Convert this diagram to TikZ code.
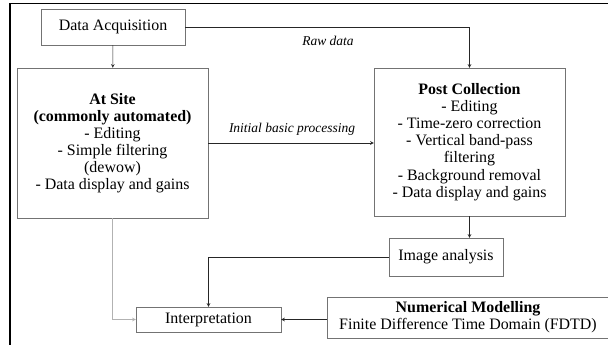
\documentclass[tikz,border=0pt]{standalone}
\usepackage{fontspec}
\setmainfont{Liberation Serif}
\tikzset{>=stealth}
\tikzset{
  blk/.style={draw=black!55, thin, align=center, inner sep=0pt,
    font=\fontsize{13.6}{14.6}\selectfont},
  conn/.style={->, thin, black!85},
  lbl/.style={font=\fontsize{11.5}{13}\selectfont\itshape}
}

\begin{document}
\begin{tikzpicture}[x=0.03cm, y=-0.03cm]
\useasboundingbox (0,0) rectangle (608,345);
% outer frame (only top and left show)
\draw[line width=1.5pt] (10,345) -- (10,3.5) -- (608,3.5);

% boxes
\node[blk, minimum width=144*0.03cm, minimum height=36*0.03cm] (acq) at (113,27) {Data Acquisition};
\node[blk, minimum width=191*0.03cm, minimum height=150*0.03cm] (site) at (112.5,143)
  {\textbf{At Site}\\ \textbf{(commonly automated)}\\ - Editing\\ - Simple filtering\\ (dewow)\\ - Data display and gains};
\node[blk, minimum width=191*0.03cm, minimum height=148*0.03cm] (post) at (469.5,142)
  {\textbf{Post Collection}\\ - Editing\\ - Time-zero correction\\ - Vertical band-pass\\ filtering\\ - Background removal\\ - Data display and gains};
\node[blk, minimum width=114*0.03cm, minimum height=38*0.03cm] (img) at (446,257) {Image analysis};
\node[blk, minimum width=145*0.03cm, minimum height=25*0.03cm] (interp) at (208.5,319.5) {Interpretation};
\node[blk, minimum width=282*0.03cm, minimum height=41*0.03cm] (num) at (468,317.5)
  {\textbf{Numerical Modelling}\\ Finite Difference Time Domain (FDTD)};

% connectors
\draw[conn] (acq) -- (site);
\draw[conn] (acq.east) -| (post.north);
\draw[conn] (site.east) -- (post.west |- site.east);
\draw[conn] (post.south) -- (post.south |- img.north);
\draw[conn] (img.west) -| (interp.north);
\draw[conn, black!30] (site.south) |- (interp.west);
\draw[conn] (num.west |- interp.east) -- (interp.east);

% labels
\node[lbl] (raw) at (328,41) {Raw data};
\node[lbl] (proc) at (292,129) {Initial basic processing};
\end{tikzpicture}
\end{document}
